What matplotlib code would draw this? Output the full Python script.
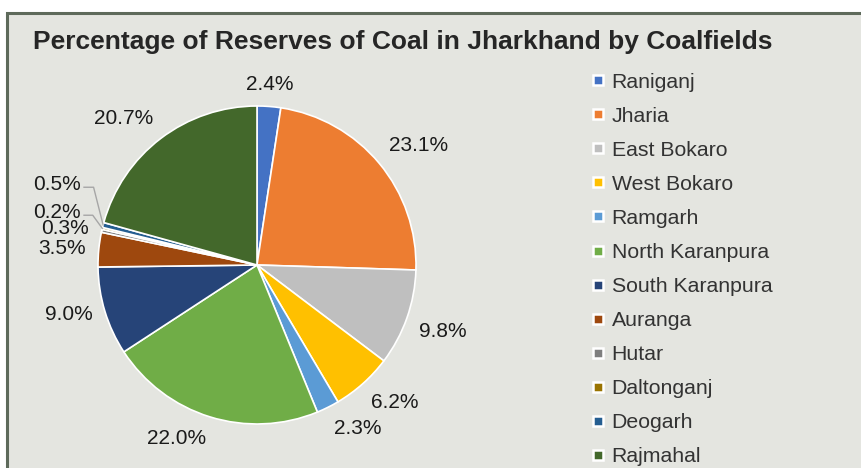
import matplotlib
matplotlib.use("Agg")
import matplotlib.pyplot as plt
from matplotlib.patches import Rectangle
from matplotlib.lines import Line2D
import numpy as np

plt.rcParams["font.family"] = ["Liberation Sans", "DejaVu Sans"]

coalfields = ["Raniganj", "Jharia", "East Bokaro", "West Bokaro", "Ramgarh",
              "North Karanpura", "South Karanpura", "Auranga", "Hutar",
              "Daltonganj", "Deogarh", "Rajmahal"]
shares = [2.4, 23.1, 9.8, 6.2, 2.3, 22.0, 9.0, 3.5, 0.3, 0.2, 0.5, 20.7]
colors = ["#4472C4", "#ED7D31", "#BFBFBF", "#FFC000", "#5B9BD5", "#70AD47",
          "#264478", "#9E480E", "#7F7F7F", "#997300", "#255E91", "#43682B"]
title = "Percentage of Reserves of Coal in Jharkhand by Coalfields"

W, H = 862, 468
fig = plt.figure(figsize=(W / 100, H / 100), dpi=100)
fig.patch.set_facecolor("white")

# chart frame (cut off at right and bottom like the source)
fig.patches.append(Rectangle((7.5 / W, -0.05), 1.1, 1 - 13 / H + 0.05,
                             transform=fig.transFigure, facecolor="#E4E5E0",
                             edgecolor="#5E6A5B", linewidth=2.2, zorder=-5))

fig.text(33 / W, 1 - 42 / H, title, fontsize=19, fontweight="bold",
         color="#262626", va="center", ha="left")

# pie: centre (257, 265) px, radius 159 px
cx, cy, r = 257, 265, 159
ax = fig.add_axes([(cx - r) / W, (H - cy - r) / H, 2 * r / W, 2 * r / H])
ax.set_zorder(2)

labels = [f"{v:.1f}%" for v in shares]
wedges, texts = ax.pie(shares, colors=colors, startangle=90, counterclock=False,
                       labels=labels, labeldistance=1.08, radius=1,
                       wedgeprops=dict(edgecolor="white", linewidth=1.2),
                       textprops=dict(fontsize=15, color="#1a1a1a"))
ax.set_xlim(-1, 1)
ax.set_ylim(-1, 1)
ax.axis("off")

# put the label box outside the pie, Excel-style
for w, t in zip(wedges, texts):
    mid = np.deg2rad((w.theta1 + w.theta2) / 2)
    c, s = np.cos(mid), np.sin(mid)
    t.set_ha("left" if c > 0.25 else "right" if c < -0.25 else "center")
    t.set_va("bottom" if s > 0.3 else "top" if s < -0.3 else "center")

# small slices with leader lines
moved = {"Deogarh": (-1.258, 0.509), "Daltonganj": (-1.258, 0.333)}
for w, t, name in zip(wedges, texts, coalfields):
    if name in moved:
        tx, ty = moved[name]
        t.set_position((tx, ty))
        t.set_ha("center")
        t.set_va("center")
        mid = np.deg2rad((w.theta1 + w.theta2) / 2)
        ex, ey = np.cos(mid), np.sin(mid)
        x0 = tx + 0.17
        ax.plot([x0, ex - 0.06, ex], [ty - 0.02, ty - 0.02, ey],
                color="#A6A6A6", lw=1, clip_on=False)

handles = [Line2D([], [], marker="s", linestyle="none", markersize=7,
                  markerfacecolor=c, markeredgecolor="white", markeredgewidth=1.8)
           for c in colors]
leg = fig.legend(handles, coalfields, loc="upper left",
                 bbox_to_anchor=(582 / W, 1 - 64 / H), frameon=False,
                 fontsize=15.3, labelspacing=0.71, handlelength=0.7,
                 handletextpad=0.3, borderaxespad=0)
for t in leg.get_texts():
    t.set_color("#333333")

fig.savefig("out.png", dpi=100, facecolor="white")
